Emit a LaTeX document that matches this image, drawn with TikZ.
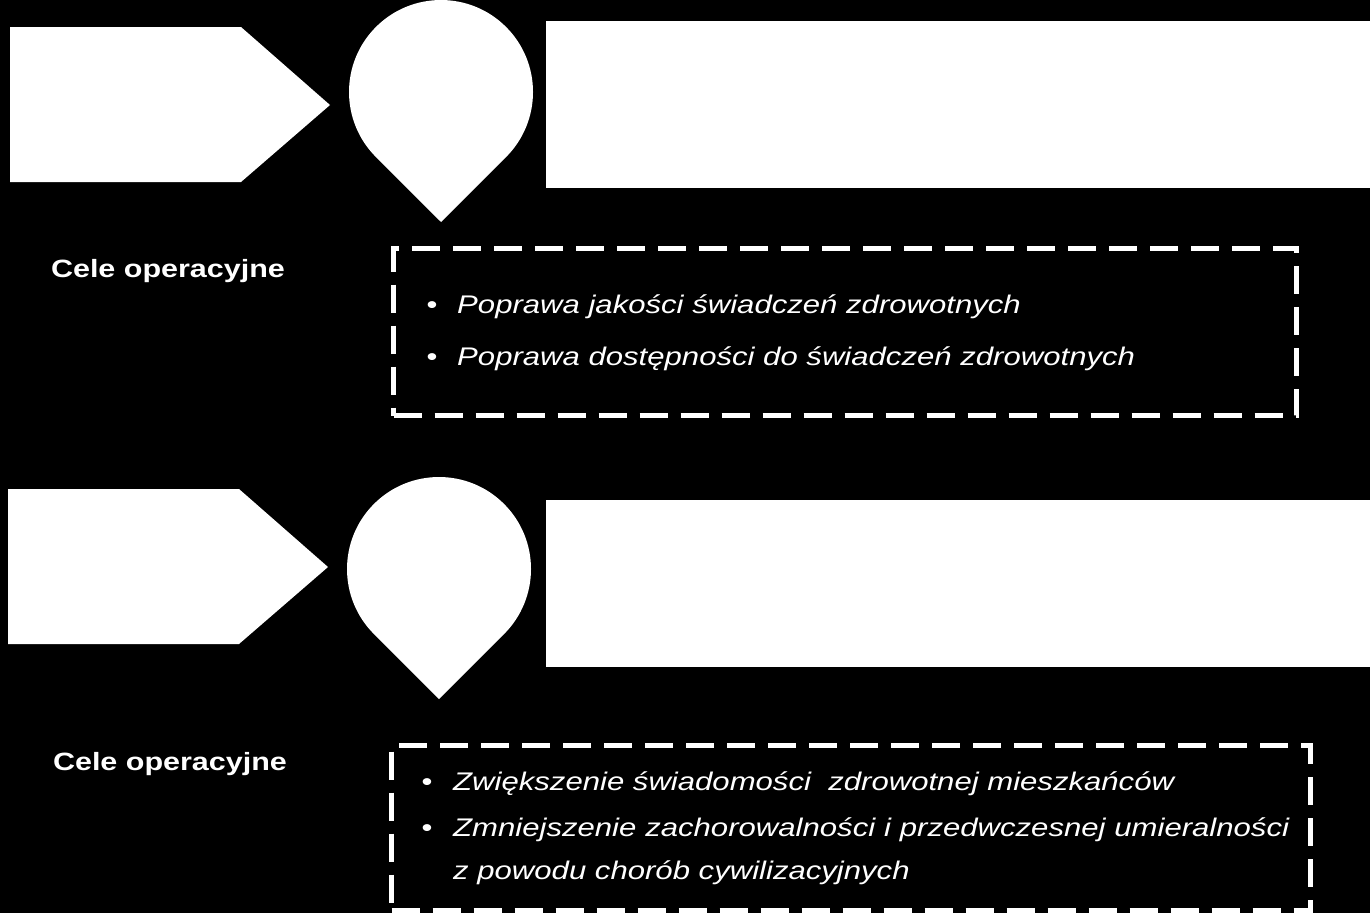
\documentclass[tikz,border=0pt]{standalone}
\usepackage{fontspec}
\setmainfont{Liberation Sans}[FakeStretch=1.22]
\usetikzlibrary{positioning}

\begin{document}
\begin{tikzpicture}[x=1pt,y=-1pt]
	\tikzset{whiteshape/.style={fill=white,draw=none},
		panel/.style={whiteshape,anchor=north west,inner sep=0pt},
		goalbox/.style={draw=white,line width=5pt,dash pattern=on 28pt off 13pt,anchor=north west,inner sep=0pt},
		heading/.style={text=white,font=\fontsize{25}{30}\selectfont\bfseries},
		dot/.style={text=white,font=\fontsize{25.5}{30}\selectfont,inner sep=0pt,anchor=base},
		goal/.style={text=white,font=\fontsize{25.5}{30}\selectfont\itshape,inner sep=0pt,anchor=base west}}
	\fill[black] (0,0) rectangle (1370,913);
	\useasboundingbox (0,0) rectangle (1370,913);
	% first block
	\fill[whiteshape] (10,27) -- (241,27) -- (330,105) -- (241,182) -- (10,182) -- cycle;
	\fill[whiteshape] (441,222) -- ([shift={(135:92)}]441,92) arc[start angle=135,end angle=405,radius=92] -- cycle;
	\node[panel,minimum width=824pt,minimum height=167pt] (aim1) at (546,21) {};
	\node[heading] (ops1) at (168,271) {Cele operacyjne};
	\node[goalbox,minimum width=903pt,minimum height=167pt] (list1) at (391,246) {};
	\node[dot] (dot11) at (432,313) {\textbullet};
	\node[goal] (goal11) at (457,313) {Poprawa jakości świadczeń zdrowotnych};
	\node[dot] (dot12) at (432,365) {\textbullet};
	\node[goal] (goal12) at (457,365) {Poprawa dostępności do świadczeń zdrowotnych};
	% second block
	\fill[whiteshape] (8,489) -- (239,489) -- (328,567) -- (239,644) -- (8,644) -- cycle;
	\fill[whiteshape] (439,699) -- ([shift={(135:92)}]439,569) arc[start angle=135,end angle=405,radius=92] -- cycle;
	\node[panel,minimum width=824pt,minimum height=167pt] (aim2) at (546,500) {};
	\node[heading] (ops2) at (170,764) {Cele operacyjne};
	\node[goalbox,minimum width=919pt,minimum height=165pt] (list2) at (389,743) {};
	\node[dot] (dot21) at (427,790) {\textbullet};
	\node[goal] (goal21) at (453,790) {Zwiększenie świadomości\ \ zdrowotnej mieszkańców};
	\node[dot] (dot22) at (427,836) {\textbullet};
	\node[goal] (goal22) at (453,836) {\makebox[836pt][s]{Zmniejszenie zachorowalności i przedwczesnej umieralności}};
	\node[goal] (goal23) at (453,879) {z powodu chorób cywilizacyjnych};
\end{tikzpicture}
\end{document}
